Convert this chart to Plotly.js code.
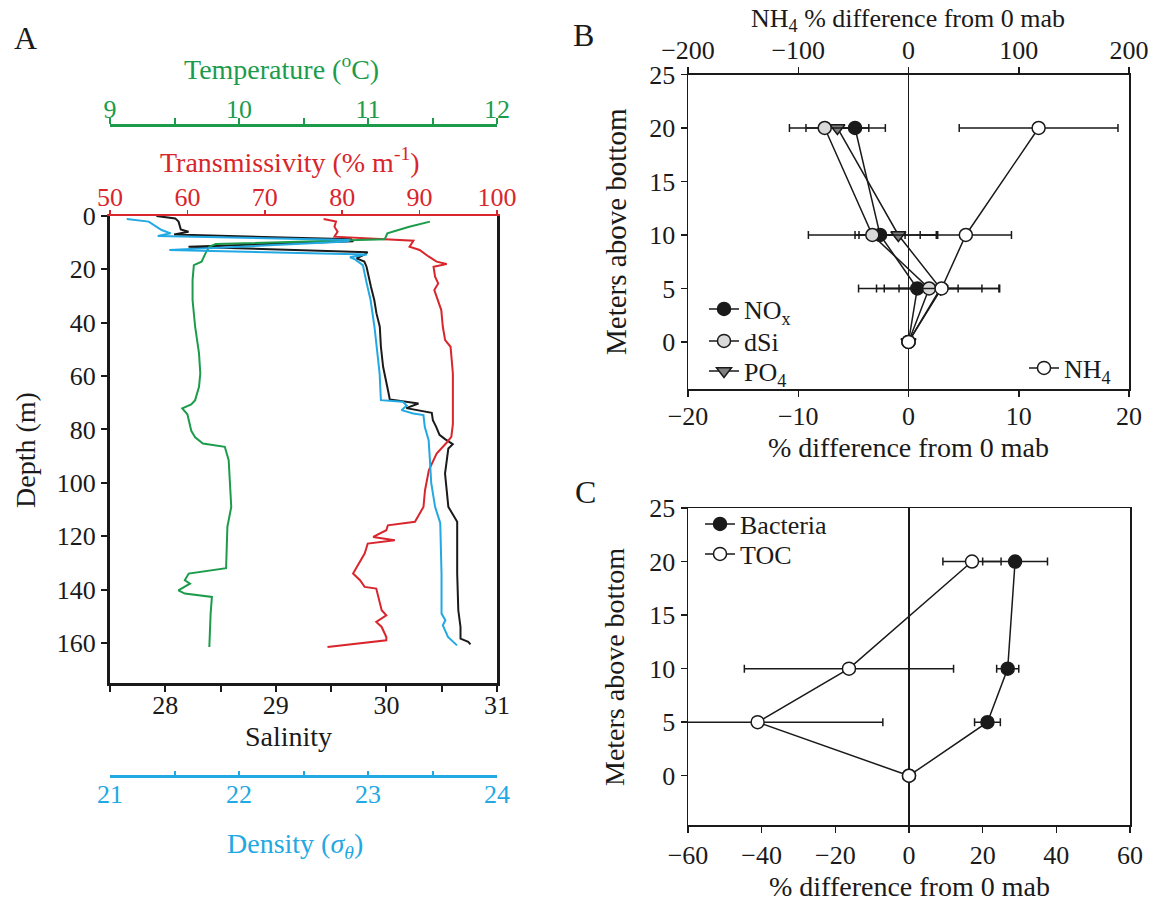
<!DOCTYPE html>
<html>
<head>
<meta charset="utf-8">
<script src="https://cdn.plot.ly/plotly-3.0.1.min.js"></script>
<style>html,body{margin:0;padding:0;background:#fff;}#chart{width:1167px;height:905px;}</style>
</head>
<body>
<div id="chart"></div>
<script>
// ---------- Panel A: CTD profiles ----------
const salDepth = [0, 0.9, 2.1, 5, 5.9, 6.9, 8.75, 9.5, 11.5, 13.6, 14.5, 15.9, 17.1, 19, 26.5, 31.5, 36.5, 41.5, 49, 56.5, 66.5, 68.75, 70.25, 72, 73.75, 76.5, 79, 82, 83.6, 85.5, 87.1, 96.5, 109, 114.6, 134, 147.75, 154, 158.4, 159.6, 160.5];
const salinity = [27.92, 28.09, 28.12, 28.14, 28.21, 28.08, 29.68, 29.7, 28.21, 29.83, 29.8, 29.73, 29.8, 29.82, 29.86, 29.89, 29.91, 29.94, 29.95, 29.97, 30.02, 30.03, 30.29, 30.18, 30.41, 30.42, 30.45, 30.48, 30.53, 30.6, 30.56, 30.53, 30.56, 30.64, 30.64, 30.65, 30.67, 30.67, 30.74, 30.76];

const denDepth = [1.1, 2.1, 5.25, 6.5, 7.5, 9, 9.6, 12.75, 14.4, 15.5, 16.25, 18.4, 25.25, 31.5, 41.5, 50.25, 59, 69, 69.6, 71, 72.75, 74, 74.6, 79, 84, 91.5, 100, 109, 115, 134, 149, 151.5, 153.4, 157.75, 160.9];
const density = [21.13, 21.3, 21.4, 21.47, 21.37, 22.86, 22.84, 21.46, 22.99, 22.86, 22.9, 22.96, 22.99, 23.02, 23.05, 23.07, 23.09, 23.1, 23.27, 23.3, 23.26, 23.35, 23.43, 23.44, 23.47, 23.48, 23.49, 23.52, 23.56, 23.57, 23.57, 23.6, 23.58, 23.62, 23.69];

const tempDepth = [2.1, 4, 6.5, 8.7, 10.5, 11.5, 14, 17.1, 18.4, 24, 31.5, 41.5, 51.5, 59, 64, 69, 70.6, 72.1, 74.3, 80.5, 82.9, 85.25, 86.5, 91.5, 109, 116.5, 132, 134, 136.5, 137.75, 140.25, 141.5, 142.75, 149, 161.5];
const temperature = [11.48, 11.32, 11.15, 11.13, 9.82, 9.77, 9.74, 9.71, 9.65, 9.64, 9.64, 9.66, 9.69, 9.7, 9.69, 9.66, 9.63, 9.56, 9.6, 9.63, 9.66, 9.72, 9.89, 9.92, 9.94, 9.91, 9.9, 9.61, 9.58, 9.62, 9.53, 9.58, 9.79, 9.78, 9.77];

const trDepth = [1.1, 2.1, 4, 5.9, 7.75, 8.6, 9.25, 11.5, 12.75, 15.25, 17.1, 18, 19, 22.75, 25.25, 27.75, 31.5, 35.25, 41.5, 46.5, 49, 59, 69, 78, 82.75, 85.25, 89, 95.25, 102.75, 109, 114.6, 115.9, 117.75, 120.25, 121.5, 122.75, 126.5, 132.75, 134, 136.5, 139, 139.6, 144, 147.75, 149.6, 152.1, 154, 157.75, 159, 161.5];
const transmissivity = [77.6, 79.2, 79.0, 79.4, 79.0, 85.7, 89.2, 88.7, 90.0, 91.2, 92.2, 93.5, 91.8, 92.0, 92.4, 91.9, 92.3, 92.8, 93.0, 93.3, 94.0, 94.3, 94.3, 94.3, 94.1, 93.4, 92.2, 91.2, 90.7, 90.5, 89.4, 85.9, 85.7, 84.0, 86.8, 83.3, 82.9, 81.6, 81.4, 82.3, 82.9, 84.4, 84.8, 85.1, 85.7, 84.4, 85.1, 85.7, 85.7, 78.1];

const depthTicks = [0, 20, 40, 60, 80, 100, 120, 140, 160];
const salTicks = [28, 29, 30, 31];
const trTicks = [50, 60, 70, 80, 90, 100];
const tempTicks = [9, 10, 11, 12];
const denTicks = [21, 22, 23, 24];

// ---------- Panel B: nutrients ----------
const mabB = [0, 5, 10, 20];
const nox = [0, 0.8, -2.58, -4.85];
const noxErr = [0, 3.7, 2.27, 2.75];
const dsi = [0, 1.87, -3.28, -7.6];
const dsiErr = [0, 6.4, 5.8, 3.2];
const po4 = [0, 2.9, -0.92, -6.45];
const po4Err = [0, 3.76, 3.57, 2.85];
const nh4 = [0, 30, 52, 118];
const nh4Err = [0, 52, 41.4, 72];
const bTicks = [-20, -10, 0, 10, 20];
const nh4Ticks = [-200, -100, 0, 100, 200];
const mabTicks = [0, 5, 10, 15, 20, 25];

// ---------- Panel C: bacteria & TOC ----------
const mabC = [0, 5, 10, 20];
const bacteria = [0, 21.3, 26.8, 28.8];
const bacteriaErr = [0, 3.5, 3.0, 8.8];
const toc = [0, -41.1, -16.3, 17.1];
const tocErr = [0, 34, 28.4, 7.9];
const cTicks = [-60, -40, -20, 0, 20, 40, 60];

const RED = '#d8262c', GREEN = '#1c9c4b', BLUE = '#22a8e2', BLK = '#1a1a1a';
const W = 1167, H = 905;
const px = v => v / W, py = v => 1 - v / H;

const traces = [
  {x: temperature, y: tempDepth, xaxis: 'x3', yaxis: 'y', mode: 'lines', line: {color: GREEN, width: 2}, showlegend: false, name: 'Temperature'},
  {x: transmissivity, y: trDepth, xaxis: 'x2', yaxis: 'y', mode: 'lines', line: {color: RED, width: 2}, showlegend: false, name: 'Transmissivity'},
  {x: salinity, y: salDepth, xaxis: 'x', yaxis: 'y', mode: 'lines', line: {color: BLK, width: 2}, showlegend: false, name: 'Salinity'},
  {x: density, y: denDepth, xaxis: 'x4', yaxis: 'y', mode: 'lines', line: {color: BLUE, width: 2}, showlegend: false, name: 'Density'},
];

function errX(arr) { return {type: 'data', array: arr, visible: true, color: BLK, thickness: 1.5, width: 4}; }
const mk = (sym, fill) => ({symbol: sym, size: 13, color: fill, line: {color: BLK, width: 1.5}});

traces.push(
  {x: nox, y: mabB, xaxis: 'x5', yaxis: 'y5', mode: 'lines+markers', name: 'NO<sub>x</sub>', line: {color: BLK, width: 1.5}, marker: mk('circle', BLK), error_x: errX(noxErr), legend: 'legend'},
  {x: po4, y: mabB, xaxis: 'x5', yaxis: 'y5', mode: 'lines+markers', name: 'PO<sub>4</sub>', line: {color: BLK, width: 1.5}, marker: mk('triangle-down', '#808080'), error_x: errX(po4Err), legend: 'legend5'},
  {x: dsi, y: mabB, xaxis: 'x5', yaxis: 'y5', mode: 'lines+markers', name: 'dSi', line: {color: BLK, width: 1.5}, marker: mk('circle', '#d9d9d9'), error_x: errX(dsiErr), legend: 'legend4'},
  {x: nh4, y: mabB, xaxis: 'x6', yaxis: 'y5', mode: 'lines+markers', name: 'NH<sub>4</sub>', line: {color: BLK, width: 1.5}, marker: mk('circle', '#ffffff'), error_x: errX(nh4Err), legend: 'legend2'},
  {x: bacteria, y: mabC, xaxis: 'x7', yaxis: 'y7', mode: 'lines+markers', name: 'Bacteria', line: {color: BLK, width: 1.5}, marker: mk('circle', BLK), error_x: errX(bacteriaErr), legend: 'legend3'},
  {x: toc, y: mabC, xaxis: 'x7', yaxis: 'y7', mode: 'lines+markers', name: 'TOC', line: {color: BLK, width: 1.5}, marker: mk('circle', '#ffffff'), error_x: errX(tocErr), legend: 'legend6'}
);

const TF = 26;
const base = {showgrid: false, zeroline: false, ticks: 'outside', tickwidth: 1.5, ticklen: 6, tickcolor: BLK, linecolor: BLK, showline: true, fixedrange: true, tickfont: {size: TF}};
const A_dom = [px(110), px(497)];
const A_ydom = [py(683), py(216)];
const minorA = (color, dir) => ({dtick: 0.5, ticks: dir, ticklen: dir === 'inside' ? 4 : 6, tickwidth: 2, tickcolor: color});

const legendBase = {bgcolor: 'rgba(0,0,0,0)', borderwidth: 0, font: {size: TF, family: 'Liberation Serif', color: BLK}, tracegroupgap: 0, xanchor: 'left', yanchor: 'middle', itemclick: false};

function ann(text, x, y, size, color, angle) {
  return {text: text, x: px(x), y: py(y), xref: 'paper', yref: 'paper', showarrow: false, xanchor: 'center', yanchor: 'middle',
          font: {size: size || 28, color: color || BLK, family: 'Liberation Serif'}, textangle: angle || 0};
}

const layout = {
  width: W, height: H, margin: {l: 0, r: 0, t: 0, b: 0},
  paper_bgcolor: '#ffffff', plot_bgcolor: 'rgba(0,0,0,0)',
  font: {family: 'Liberation Serif', size: TF, color: BLK},
  showlegend: true,
  xaxis: Object.assign({}, base, {domain: A_dom, range: [27.5, 31], anchor: 'y', side: 'bottom', tickmode: 'array', tickvals: salTicks, linewidth: 3, tickwidth: 2, ticklabelstandoff: -9, minor: minorA(BLK, 'outside')}),
  yaxis: Object.assign({}, base, {domain: A_ydom, range: [175, 0], anchor: 'x', tickmode: 'array', tickvals: depthTicks, linewidth: 3, tickwidth: 2, mirror: true}),
  xaxis2: Object.assign({}, base, {overlaying: 'x', side: 'top', anchor: 'y', range: [50, 100], tickmode: 'array', tickvals: trTicks, linecolor: RED, linewidth: 2, tickcolor: RED, ticklen: 4, ticklabelstandoff: -6, tickfont: {size: TF, color: RED}}),
  xaxis3: Object.assign({}, base, {overlaying: 'x', side: 'top', anchor: 'free', position: py(125), range: [9, 12], tickmode: 'array', tickvals: tempTicks, linecolor: GREEN, linewidth: 3, tickcolor: GREEN, ticklen: 4, tickwidth: 2, ticklabelstandoff: -8, tickfont: {size: TF, color: GREEN}, minor: minorA(GREEN, 'outside')}),
  xaxis4: Object.assign({}, base, {overlaying: 'x', side: 'bottom', anchor: 'free', position: py(776), range: [21, 24], tickmode: 'array', tickvals: denTicks, linecolor: BLUE, linewidth: 3, tickcolor: BLUE, ticks: 'inside', ticklen: 4, tickwidth: 2, ticklabelstandoff: -6, tickfont: {size: TF, color: BLUE}, minor: minorA(BLUE, 'inside')}),

  xaxis5: Object.assign({}, base, {domain: [px(688), px(1129)], range: [-20, 20], anchor: 'y5', tickmode: 'array', tickvals: bTicks, zeroline: true, zerolinecolor: BLK, zerolinewidth: 1.5, linewidth: 1.5, ticklabelstandoff: -3}),
  yaxis5: Object.assign({}, base, {domain: [py(389), py(74.5)], range: [-4.4, 25], anchor: 'x5', tickmode: 'array', tickvals: mabTicks, mirror: true, linewidth: 1.5}),
  xaxis6: Object.assign({}, base, {overlaying: 'x5', side: 'top', anchor: 'y5', range: [-200, 200], tickmode: 'array', tickvals: nh4Ticks, linewidth: 1.5, ticklabelstandoff: -2}),

  xaxis7: Object.assign({}, base, {domain: [px(688), px(1130)], range: [-60, 60], anchor: 'y7', tickmode: 'array', tickvals: cTicks, zeroline: true, zerolinecolor: BLK, zerolinewidth: 1.5, linewidth: 1.5, mirror: true}),
  yaxis7: Object.assign({}, base, {domain: [py(825), py(508)], range: [-4.6, 25], anchor: 'x7', tickmode: 'array', tickvals: mabTicks, mirror: true, linewidth: 1.5}),

  legend: Object.assign({}, legendBase, {x: px(704), y: py(309)}),
  legend4: Object.assign({}, legendBase, {x: px(704), y: py(341)}),
  legend5: Object.assign({}, legendBase, {x: px(704), y: py(371)}),
  legend2: Object.assign({}, legendBase, {x: px(1024), y: py(368)}),
  legend3: Object.assign({}, legendBase, {x: px(700), y: py(524)}),
  legend6: Object.assign({}, legendBase, {x: px(700), y: py(554)}),

  annotations: [
    ann('A', 25, 38, 32),
    ann('Temperature (<sup>o</sup>C)', 281, 68, 28, GREEN),
    ann('Transmissivity (% m<sup>-1</sup>)', 290, 160, 28, RED),
    ann('Salinity', 288, 736, 28),
    ann('Density (<i>σ<sub>θ</sub></i>)', 295, 845, 28, BLUE),
    ann('Depth (m)', 25, 450, 28, BLK, -90),
    ann('B', 583, 35, 32),
    ann('NH<sub>4</sub> % difference from 0 mab', 908, 20, 26),
    ann('% difference from 0 mab', 908, 447, 28),
    ann('Meters above bottom', 616, 232, 29, BLK, -90),
    ann('C', 585, 492, 32),
    ann('% difference from 0 mab', 909, 886, 28),
    ann('Meters above bottom', 614, 667, 28, BLK, -90)
  ]
};

Plotly.newPlot('chart', traces, layout, {displayModeBar: false, staticPlot: true});
</script>
</body>
</html>
